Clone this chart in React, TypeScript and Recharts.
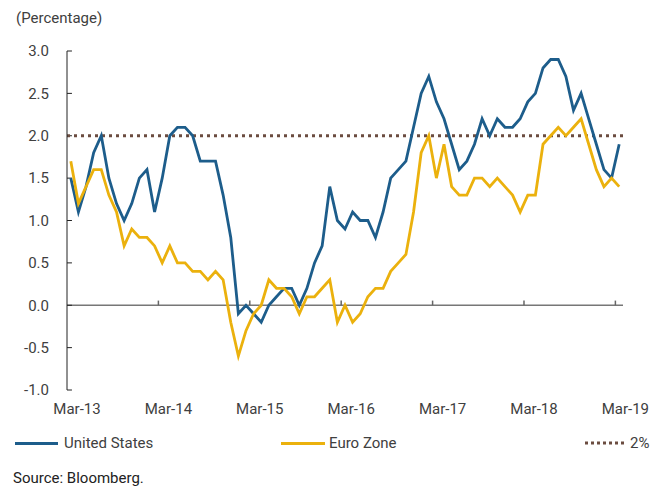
import React from 'react';
import { LineChart, Line, XAxis, YAxis, ReferenceLine } from 'recharts';

// monthly, Mar-13 .. Mar-19
const usInflation = [
  1.5, 1.1, 1.4, 1.8, 2.0, 1.5, 1.2, 1.0, 1.2, 1.5, 1.6, 1.1,
  1.5, 2.0, 2.1, 2.1, 2.0, 1.7, 1.7, 1.7, 1.3, 0.8, -0.1, 0.0,
  -0.1, -0.2, 0.0, 0.1, 0.2, 0.2, 0.0, 0.2, 0.5, 0.7, 1.4, 1.0,
  0.9, 1.1, 1.0, 1.0, 0.8, 1.1, 1.5, 1.6, 1.7, 2.1, 2.5, 2.7,
  2.4, 2.2, 1.9, 1.6, 1.7, 1.9, 2.2, 2.0, 2.2, 2.1, 2.1, 2.2,
  2.4, 2.5, 2.8, 2.9, 2.9, 2.7, 2.3, 2.5, 2.2, 1.9, 1.6, 1.5, 1.9,
];

const euroInflation = [
  1.7, 1.2, 1.4, 1.6, 1.6, 1.3, 1.1, 0.7, 0.9, 0.8, 0.8, 0.7,
  0.5, 0.7, 0.5, 0.5, 0.4, 0.4, 0.3, 0.4, 0.3, -0.2, -0.6, -0.3,
  -0.1, 0.0, 0.3, 0.2, 0.2, 0.1, -0.1, 0.1, 0.1, 0.2, 0.3, -0.2,
  0.0, -0.2, -0.1, 0.1, 0.2, 0.2, 0.4, 0.5, 0.6, 1.1, 1.8, 2.0,
  1.5, 1.9, 1.4, 1.3, 1.3, 1.5, 1.5, 1.4, 1.5, 1.4, 1.3, 1.1,
  1.3, 1.3, 1.9, 2.0, 2.1, 2.0, 2.1, 2.2, 1.9, 1.6, 1.4, 1.5, 1.4,
];

const monthNames = ['Jan', 'Feb', 'Mar', 'Apr', 'May', 'Jun', 'Jul', 'Aug', 'Sep', 'Oct', 'Nov', 'Dec'];
const months = usInflation.map((_, i) => {
  const m = (i + 2) % 12;
  const y = 13 + Math.floor((i + 2) / 12);
  return `${monthNames[m]}-${y}`;
});

const xTickLabels = ['Mar-13', 'Mar-14', 'Mar-15', 'Mar-16', 'Mar-17', 'Mar-18', 'Mar-19'];
const yTicks = [-1, -0.5, 0, 0.5, 1, 1.5, 2, 2.5, 3];
const target = 2;

// ticks sit on the left edge of each March
const xTicks = xTickLabels.map((_, i) => i * 12 - 0.5);

const data = months.map((month, i) => ({
  idx: i,
  month,
  us: usInflation[i],
  euro: euroInflation[i],
}));

const US_COLOR = '#1d5d8b';
const EURO_COLOR = '#ebb10d';
const TARGET_COLOR = '#6b4c40';
const FONT = 'Roboto, "Noto Sans", sans-serif';

const App: React.FC = () => {
  return (
    <div style={{ position: 'relative', width: 646, height: 482, fontFamily: FONT, color: '#404040' }}>
      <div style={{ position: 'absolute', left: 8, top: 2, fontSize: 15, lineHeight: '16px' }}>
        (Percentage)
      </div>
      <div style={{ position: 'absolute', left: 0, top: 0 }}>
        <LineChart
          width={646}
          height={410}
          data={data}
          margin={{ top: 43, right: 31, left: 0, bottom: 0 }}
        >
          <XAxis
            dataKey="idx"
            type="number"
            domain={[-0.5, 72.5]}
            ticks={xTicks}
            interval={0}
            axisLine={false}
            tickLine={false}
            tickSize={0}
            tickMargin={13}
            height={28}
            tick={{ fill: '#404040', fontSize: 15, fontFamily: FONT, dx: 10 }}
            tickFormatter={(v: number) => xTickLabels[Math.round((v + 0.5) / 12)]}
          />
          <YAxis
            domain={[-1, 3]}
            ticks={yTicks}
            interval={0}
            width={59}
            axisLine={{ stroke: '#222', strokeWidth: 1 }}
            tickLine={false}
            tickSize={0}
            tickMargin={18}
            tick={{ fill: '#404040', fontSize: 15, fontFamily: FONT }}
            tickFormatter={(v: number) => v.toFixed(1)}
          />
          <ReferenceLine y={0} stroke="#777" strokeWidth={1.5} />
          {yTicks.map((t) => (
            <ReferenceLine
              key={`yt${t}`}
              segment={[{ x: -0.5, y: t }, { x: 0.15, y: t }]}
              stroke="#222"
              strokeWidth={1}
            />
          ))}
          {xTicks.slice(1).map((t) => (
            <ReferenceLine
              key={`xt${t}`}
              segment={[{ x: t, y: 0 }, { x: t, y: 0.055 }]}
              stroke="#666"
              strokeWidth={1.5}
            />
          ))}
          <ReferenceLine
            y={target}
            stroke={TARGET_COLOR}
            strokeWidth={3}
            strokeDasharray="3 4"
          />
          <Line
            type="linear"
            dataKey="us"
            stroke={US_COLOR}
            strokeWidth={2.8}
            dot={false}
            isAnimationActive={false}
          />
          <Line
            type="linear"
            dataKey="euro"
            stroke={EURO_COLOR}
            strokeWidth={2.8}
            dot={false}
            isAnimationActive={false}
          />
        </LineChart>
      </div>
      <div style={{ position: 'absolute', left: 0, top: 427, width: 646, height: 16, fontSize: 15, lineHeight: '16px' }}>
        <span style={{ position: 'absolute', left: 7, top: 7, width: 43, height: 3, background: US_COLOR }} />
        <span style={{ position: 'absolute', left: 56, top: 0 }}>United States</span>
        <span style={{ position: 'absolute', left: 273, top: 7, width: 44, height: 3, background: EURO_COLOR }} />
        <span style={{ position: 'absolute', left: 321, top: 0 }}>Euro Zone</span>
        <svg style={{ position: 'absolute', left: 577, top: 6 }} width={42} height={4}>
          <line x1={0} y1={2} x2={42} y2={2} stroke={TARGET_COLOR} strokeWidth={3} strokeDasharray="3 3" />
        </svg>
        <span style={{ position: 'absolute', left: 622, top: 0 }}>2%</span>
      </div>
      <div style={{ position: 'absolute', left: 5, top: 462, fontSize: 15, lineHeight: '16px', color: '#222' }}>
        Source: Bloomberg.
      </div>
    </div>
  );
};

export default App;
